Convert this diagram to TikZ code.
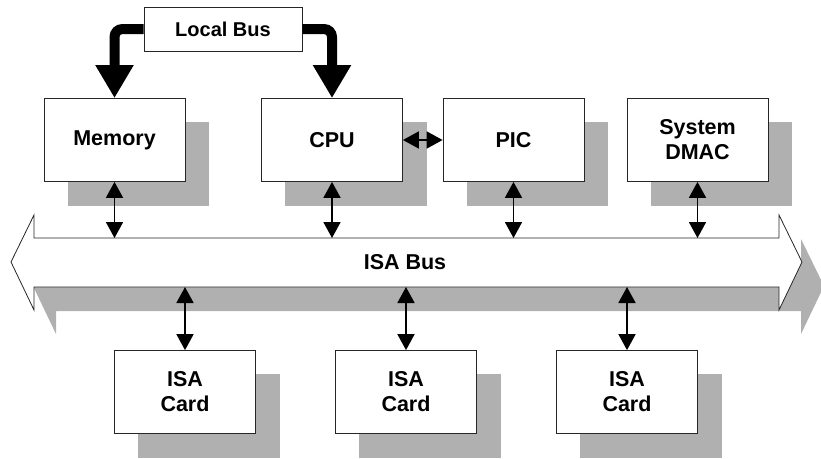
\documentclass[tikz,border=0pt]{standalone}
\usepackage{fontspec}
\setmainfont{Liberation Sans}
\usetikzlibrary{arrows.meta}
\pgfdeclarelayer{background}
\pgfsetlayers{background,main}

\begin{document}
\begin{tikzpicture}[
    x = 1pt, y = -1pt,
    box/.style = {
      draw = black!85,
      line width = 0.8pt,
      fill = white,
      minimum width = 141pt,
      minimum height = 83pt,
      align = center,
      font = \fontsize{21.5}{25}\selectfont\bfseries
    },
    lbox/.style = {box, minimum width = 158pt, minimum height = 44pt,
      font = \fontsize{20}{23}\selectfont\bfseries},
    drop/.style = {fill = black!31},
    dbl/.style = {line width = 1.8pt,
      {Triangle[length=16pt,width=17pt]}-{Triangle[length=16pt,width=17pt]}},
    fat/.style = {line width = 10pt, rounded corners = 8pt,
      -{Triangle[length=33pt,width=36pt]}}
  ]

  \clip (0,0) rectangle (821,458);

  % ISA bus, shadow first
  \fill[drop, shift = {(22,24)}] (34,238) -- (779,238) -- (779,215) -- (802,262)
    -- (779,310) -- (779,287) -- (34,287) -- (34,310) -- (11,262) -- (34,215) -- cycle;
  \filldraw[fill = white, draw = black!85, line width = 0.8pt]
    (34,238) -- (779,238) -- (779,215) -- (802,262)
    -- (779,310) -- (779,287) -- (34,287) -- (34,310) -- (11,262) -- (34,215) -- cycle;
  \node[font = \fontsize{21.5}{25}\selectfont\bfseries] (isa) at (405,262) {ISA Bus};
  \coordinate (bustop) at (0,238);
  \coordinate (busbot) at (0,287);

  % boards on the bus
  \node[box] (mem) at (114.5,140) {Memory};
  \node[box] (cpu) at (332,140) {CPU};
  \node[box] (pic) at (513.5,140) {PIC};
  \node[box] (dmac) at (697.5,140) {System\\DMAC};

  \node[box] (card1) at (185,392) {ISA\\Card};
  \node[box] (card2) at (406,392) {ISA\\Card};
  \node[box] (card3) at (627,392) {ISA\\Card};

  \node[lbox] (lb) at (223,29) {Local Bus};

  \begin{pgfonlayer}{background}
    \foreach \n in {mem,cpu,pic,dmac,card1,card2,card3}
      \fill[drop] ([shift = {(24,24)}]\n.north west) rectangle ([shift = {(24,24)}]\n.south east);
  \end{pgfonlayer}

  % local bus
  \draw[fat] (lb.west) -| (mem.north);
  \draw[fat] (lb.east) -| (cpu.north);

  \draw[dbl] (cpu.east) -- (pic.west);
  \foreach \n in {mem,cpu,pic,dmac}
    \draw[dbl] (\n.south) -- (\n.south |- bustop);
  \foreach \n in {card1,card2,card3}
    \draw[dbl] (\n.north) -- (\n.north |- busbot);

\end{tikzpicture}
\end{document}
